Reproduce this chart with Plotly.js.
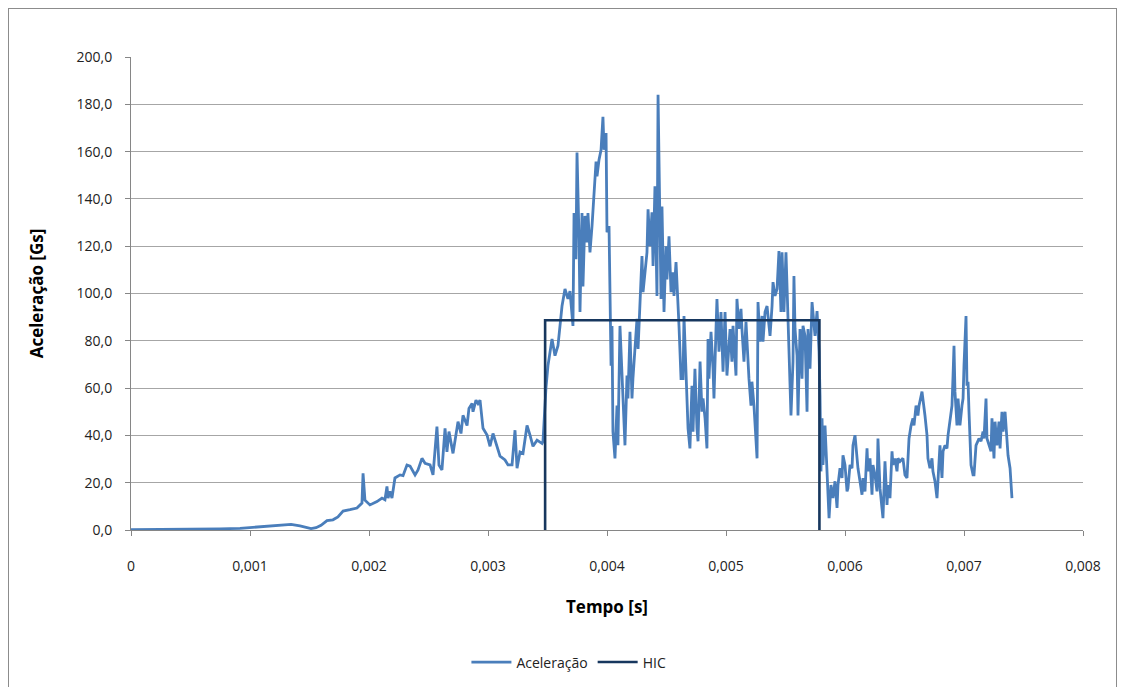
<!DOCTYPE html>
<html>
<head>
<meta charset="utf-8">
<script src="https://cdn.plot.ly/plotly-3.0.1.min.js"></script>
<style>
  html, body { margin: 0; padding: 0; background: #ffffff; }
  #frame { position: absolute; left: 8px; top: 8px; width: 1109px; height: 679px; border: 1px solid #8c8c8c; border-bottom: none; box-sizing: border-box; }
  #chart { position: absolute; left: 0; top: 0; width: 1126px; height: 691px; }
</style>
</head>
<body>
<div id="frame"></div>
<div id="chart"></div>
<script>
// Time in milliseconds (converted to seconds for plotting)
const accelTimeMs = [
 0, 0.244, 0.496, 0.748, 0.916, 1.0, 1.126, 1.252, 1.345, 1.420, 1.513, 1.555, 1.597, 1.647, 1.697, 1.739, 1.782, 1.840, 1.899, 1.941,
 1.950, 1.966, 2.008, 2.067, 2.109, 2.134, 2.151, 2.160, 2.176, 2.193, 2.218, 2.261, 2.286, 2.319, 2.345, 2.387, 2.412, 2.445, 2.471, 2.513,
 2.538, 2.571, 2.588, 2.613, 2.639, 2.655, 2.672, 2.706, 2.723, 2.748, 2.773, 2.790, 2.824, 2.840, 2.866, 2.874, 2.899, 2.916, 2.933, 2.958,
 2.992, 3.017, 3.042, 3.076, 3.101, 3.143, 3.168, 3.202, 3.227, 3.244, 3.269, 3.294, 3.328, 3.353, 3.378, 3.412, 3.454, 3.462, 3.487, 3.504,
 3.538, 3.563, 3.588, 3.622, 3.647, 3.672, 3.689, 3.714, 3.723, 3.739, 3.748, 3.765, 3.773, 3.790, 3.798, 3.815, 3.832, 3.840, 3.857, 3.874,
 3.891, 3.908, 3.916, 3.933, 3.950, 3.966, 3.975, 3.992, 4.000, 4.017, 4.034, 4.042, 4.050, 4.067, 4.084, 4.092, 4.109, 4.126, 4.134, 4.151,
 4.168, 4.176, 4.193, 4.210, 4.218, 4.235, 4.252, 4.261, 4.277, 4.294, 4.303, 4.319, 4.336, 4.345, 4.361, 4.378, 4.387, 4.403, 4.420, 4.429,
 4.445, 4.454, 4.462, 4.479, 4.496, 4.504, 4.521, 4.538, 4.555, 4.563, 4.580, 4.597, 4.605, 4.622, 4.639, 4.647, 4.655, 4.672, 4.681, 4.697,
 4.714, 4.723, 4.739, 4.756, 4.765, 4.782, 4.798, 4.807, 4.824, 4.840, 4.849, 4.857, 4.874, 4.891, 4.899, 4.916, 4.924, 4.941, 4.958, 4.975,
 4.992, 5.008, 5.034, 5.050, 5.059, 5.084, 5.092, 5.109, 5.126, 5.134, 5.151, 5.168, 5.176, 5.193, 5.210, 5.218, 5.235, 5.252, 5.261, 5.269,
 5.286, 5.303, 5.311, 5.328, 5.345, 5.353, 5.370, 5.387, 5.395, 5.412, 5.429, 5.445, 5.462, 5.471, 5.487, 5.504, 5.521, 5.529, 5.546, 5.563,
 5.571, 5.580, 5.597, 5.605, 5.622, 5.639, 5.647, 5.664, 5.681, 5.689, 5.706, 5.723, 5.731, 5.748, 5.765, 5.782, 5.790, 5.798, 5.807, 5.815,
 5.832, 5.849, 5.866, 5.882, 5.899, 5.916, 5.933, 5.941, 5.958, 5.975, 5.983, 6.000, 6.017, 6.025, 6.042, 6.059, 6.067, 6.084, 6.101, 6.109,
 6.126, 6.143, 6.151, 6.168, 6.185, 6.193, 6.210, 6.227, 6.235, 6.252, 6.269, 6.277, 6.294, 6.311, 6.319, 6.336, 6.353, 6.361, 6.378, 6.395,
 6.403, 6.420, 6.437, 6.445, 6.462, 6.487, 6.504, 6.521, 6.538, 6.555, 6.571, 6.580, 6.597, 6.613, 6.622, 6.647, 6.655, 6.672, 6.689, 6.697,
 6.714, 6.731, 6.739, 6.756, 6.773, 6.782, 6.798, 6.815, 6.824, 6.840, 6.857, 6.866, 6.882, 6.899, 6.908, 6.916, 6.924, 6.941, 6.950, 6.966,
 6.983, 6.992, 7.000, 7.017, 7.025, 7.034, 7.042, 7.059, 7.076, 7.084, 7.101, 7.118, 7.126, 7.143, 7.160, 7.168, 7.185, 7.193, 7.210, 7.227,
 7.235, 7.252, 7.261, 7.277, 7.294, 7.303, 7.319, 7.328, 7.345, 7.361, 7.370, 7.387, 7.403
];
const accelValue = [
 0.2, 0.2, 0.3, 0.5, 0.7, 1.0, 1.5, 1.8, 2.4, 1.7, 0.6, 1.0, 2.0, 4.0, 4.3, 5.5, 8.0, 8.6, 9.3, 11.4,
 24.0, 12.6, 10.6, 12.0, 13.5, 12.8, 18.4, 13.5, 16.3, 13.5, 22.0, 23.3, 23.0, 27.5, 27.0, 23.3, 25.4, 30.3, 28.2, 27.5,
 23.3, 43.7, 27.5, 25.4, 43.0, 33.0, 41.6, 32.4, 38.7, 45.8, 40.8, 48.5, 44.2, 51.4, 53.5, 50.0, 54.9, 53.5, 54.9, 43.0,
 40.1, 35.4, 40.8, 35.4, 31.2, 29.6, 27.5, 27.5, 42.2, 26.1, 33.0, 32.4, 44.2, 40.1, 35.4, 38.0, 36.6, 37.5, 60.0, 69.5,
 80.8, 73.7, 77.9, 94.7, 101.9, 97.7, 101.0, 86.3, 134.0, 114.5, 159.6, 123.0, 92.2, 134.0, 103.0, 132.8, 121.6, 134.0, 117.4, 128.5,
 144.0, 155.8, 149.5, 156.6, 160.8, 174.7, 160.8, 167.9, 125.9, 128.5, 69.5, 86.3, 41.6, 30.3, 52.6, 35.8, 86.3, 62.7, 58.5, 35.8,
 65.3, 55.6, 83.8, 55.6, 64.0, 75.4, 89.3, 76.6, 94.7, 115.8, 100.6, 110.3, 117.4, 135.6, 120.0, 134.3, 111.6, 145.3, 99.0, 184.0,
 131.4, 97.7, 136.8, 92.2, 120.0, 106.0, 124.2, 100.6, 109.0, 99.0, 113.3, 96.4, 86.3, 64.0, 64.0, 90.5, 77.9, 61.0, 43.0, 34.5,
 61.0, 41.6, 68.2, 43.0, 37.5, 71.2, 50.0, 55.6, 47.2, 34.5, 80.8, 64.0, 83.8, 68.2, 55.6, 85.0, 97.7, 75.4, 92.2, 66.9,
 92.2, 65.3, 85.0, 71.2, 86.3, 65.3, 97.7, 85.0, 93.5, 85.0, 71.2, 88.0, 77.9, 64.0, 52.6, 62.7, 52.6, 40.1, 30.3, 96.4,
 79.6, 90.5, 79.6, 92.2, 94.7, 90.5, 82.1, 94.7, 104.8, 99.0, 101.9, 117.9, 92.2, 117.4, 92.2, 117.4, 88.0, 77.9, 48.4, 71.2,
 107.4, 85.0, 73.7, 48.4, 85.0, 64.0, 86.3, 82.1, 50.0, 85.0, 68.2, 96.4, 92.2, 82.1, 92.6, 75.4, 57.0, 24.8, 47.2, 27.5,
 44.2, 22.0, 5.0, 19.0, 13.5, 20.6, 9.3, 19.0, 26.1, 22.0, 31.6, 27.5, 16.3, 17.7, 27.5, 26.1, 35.8, 40.1, 30.3, 26.1,
 20.6, 14.9, 22.0, 16.3, 34.5, 24.8, 30.3, 14.9, 27.5, 23.3, 16.3, 38.7, 17.7, 10.6, 5.0, 29.0, 10.6, 19.0, 13.5, 33.3,
 27.5, 30.3, 24.8, 30.3, 29.0, 30.3, 23.3, 22.0, 38.7, 44.2, 47.2, 44.2, 52.6, 48.4, 52.6, 58.5, 55.6, 48.4, 40.1, 30.3,
 26.1, 30.3, 24.8, 20.6, 13.5, 22.0, 35.8, 22.0, 33.3, 35.8, 34.5, 40.1, 47.2, 52.6, 65.3, 77.9, 58.5, 44.2, 55.6, 44.2,
 52.6, 55.6, 69.5, 90.5, 61.0, 62.7, 50.0, 27.5, 23.3, 23.3, 35.8, 37.5, 38.7, 37.5, 41.6, 38.7, 55.6, 38.7, 35.8, 33.3,
 47.2, 30.3, 45.8, 35.8, 45.8, 34.5, 50.0, 41.6, 50.0, 37.5, 31.6, 26.1, 13.5
];
const hicTimeMs = [3.48, 3.48, 5.785, 5.785];
const hicValue = [0, 88.7, 88.7, 0];

const xTickVals = [0, 0.001, 0.002, 0.003, 0.004, 0.005, 0.006, 0.007, 0.008];
const xTickText = ['0', '0,001', '0,002', '0,003', '0,004', '0,005', '0,006', '0,007', '0,008'];
const yTickVals = [0, 20, 40, 60, 80, 100, 120, 140, 160, 180, 200];
const yTickText = ['0,0', '20,0', '40,0', '60,0', '80,0', '100,0', '120,0', '140,0', '160,0', '180,0', '200,0'];

const FONT = 'Open Sans, Liberation Sans, sans-serif';

const traces = [
  {
    x: accelTimeMs.map(v => v / 1000), y: accelValue,
    type: 'scatter', mode: 'lines', name: 'Aceleração',
    line: { color: '#4A7EBB', width: 2.8 }
  },
  {
    x: hicTimeMs.map(v => v / 1000), y: hicValue,
    type: 'scatter', mode: 'lines', name: 'HIC',
    line: { color: '#17375E', width: 2.6 }
  }
];

const layout = {
  width: 1126, height: 691,
  margin: { l: 131, r: 43, t: 57, b: 159 },
  paper_bgcolor: 'rgba(0,0,0,0)', plot_bgcolor: '#ffffff',
  font: { family: FONT, size: 14, color: '#222222' },
  showlegend: true,
  legend: {
    orientation: 'h', x: 0.46, xanchor: 'center', y: -0.28, yanchor: 'middle',
    font: { family: FONT, size: 14, color: '#222222' },
    itemwidth: 40, tracegroupgap: 0
  },
  xaxis: {
    range: [0, 0.008], tickmode: 'array', tickvals: xTickVals, ticktext: xTickText,
    showgrid: false, zeroline: false, showline: true, linecolor: '#868686', linewidth: 1,
    ticks: 'outside', ticklen: 5, tickcolor: '#868686', ticklabelstandoff: 18,
    tickfont: { family: FONT, size: 14, color: '#222222' },
    title: { text: 'Tempo [s]', font: { family: FONT, size: 17, color: '#000000', weight: 'bold' }, standoff: 27 }
  },
  yaxis: {
    range: [0, 200], tickmode: 'array', tickvals: yTickVals, ticktext: yTickText,
    showgrid: true, gridcolor: '#A6A6A6', gridwidth: 1, zeroline: false,
    showline: true, linecolor: '#868686', linewidth: 1,
    ticks: 'outside', ticklen: 5, tickcolor: '#868686', ticklabelstandoff: 10,
    tickfont: { family: FONT, size: 14, color: '#222222' },
    title: { text: 'Aceleração [Gs]', font: { family: FONT, size: 17, color: '#000000', weight: 'bold' }, standoff: 28 }
  }
};

Plotly.newPlot('chart', traces, layout, { displayModeBar: false, staticPlot: true });
</script>
</body>
</html>
